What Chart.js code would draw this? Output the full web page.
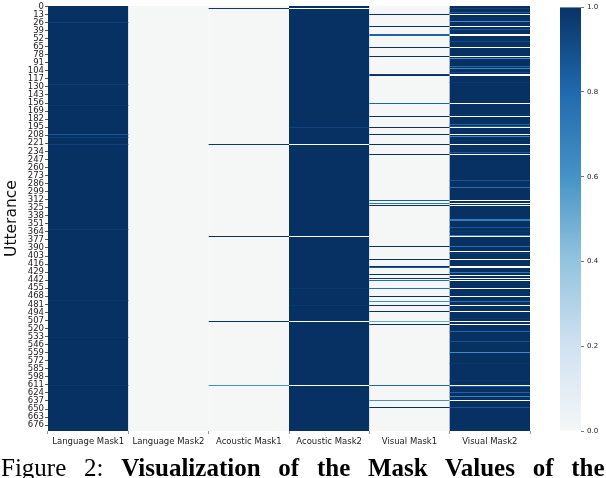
<!DOCTYPE html>
<html>
<head>
<meta charset="utf-8">
<title>Mask values</title>
<script src="https://cdn.jsdelivr.net/npm/chart.js@4"></script>
<style>
  html, body { margin: 0; padding: 0; background: #fff; }
  body { width: 606px; height: 478px; position: relative; overflow: hidden; }
  canvas { position: absolute; top: 0; }
  #heatmap { left: 0; }
  #colorbar { left: 560px; }
  #caption { position: absolute; left: 1px; top: 454px; white-space: nowrap; color: #000;
    font: 25px/28px "Liberation Serif", serif; word-spacing: 11.5px; }
</style>
</head>
<body>
<canvas id="heatmap" width="606" height="478"></canvas>
<canvas id="colorbar" width="46" height="478"></canvas>
<div id="caption">Figure 2: <b>Visualization of the Mask Values of the</b></div>
<script>
  const masks = ['Language Mask1', 'Language Mask2', 'Acoustic Mask1', 'Acoustic Mask2', 'Visual Mask1', 'Visual Mask2'];
  const rowCount = 686;
  const rowTicks = [0, 13, 26, 39, 52, 65, 78, 91, 104, 117, 130, 143, 156, 169, 182, 195, 208, 221, 234, 247, 260, 273, 286, 299, 312, 325, 338, 351, 364, 377, 390, 403, 416, 429, 442, 455, 468, 481, 494, 507, 520, 533, 546, 559, 572, 585, 598, 611, 624, 637, 650, 663, 676];
  const colorbarTicks = [0, 0.2, 0.4, 0.6, 0.8, 1];

  // value most rows have in each mask
  const commonValues = [1, 0, 0, 1, 0, 1];

  // rows that differ from the common value: row numbers, then their values (null = blank cell)
  const languageMask1Rows = [26, 125, 159, 206, 212, 223, 360, 474, 535, 611];
  const languageMask1Values = [0.94, 0.95, 0.97, 0.86, 0.95, 0.94, 0.96, 0.98, 0.98, 0.97];

  const acousticMask1Rows = [3, 222, 371, 508, 611];
  const acousticMask1Values = [0.97, 0.97, 1, 1, 0.6];

  const acousticMask2Rows = [3, 196, 222, 371, 455, 482, 508, 611];
  const acousticMask2Values = [null, 0.93, null, null, 0.97, 0.97, null, null];

  const visualMask1Rows = [13, 32, 45, 46, 66, 80, 109, 112, 157, 178, 196, 207, 222, 239, 313, 318, 321, 387, 408, 419, 422, 432, 439, 442, 443, 455, 468, 476, 482, 492, 509, 514, 611, 636, 648];
  const visualMask1Values = [1, 1, 0.82, 0.82, 1, 1, 0.95, 1, 0.82, 1, 1, 1, 1, 1, 0.84, 0.74, 1, 1, 1, 1, 0.85, 1, 0.97, 0.79, 0.79, 0.76, 1, 0.62, 1, 1, 0.5, 1, 0.81, 0.6, 1];

  const visualMask2Rows = [3, 10, 13, 24, 32, 37, 45, 46, 56, 66, 80, 84, 96, 100, 106, 109, 112, 122, 157, 174, 178, 190, 193, 196, 207, 209, 222, 235, 239, 281, 292, 313, 318, 321, 344, 345, 357, 363, 370, 371, 387, 395, 398, 408, 419, 422, 429, 434, 439, 442, 443, 455, 468, 476, 482, 492, 503, 509, 513, 524, 540, 559, 577, 604, 611, 614, 623, 630, 636, 648];
  const visualMask2Values = [0.93, 0.86, null, 0.63, null, 0.86, null, null, 0.9, null, null, 0.6, 0.8, 0.63, 0.92, null, null, 0.97, null, 0.97, null, 0.8, 0.86, null, null, 0.66, null, 0.86, null, 0.88, 0.77, null, null, null, 0.7, 0.7, 0.86, 0.97, 0.7, null, 0.77, null, 0.96, null, null, null, 0.72, null, null, null, null, null, null, 0.75, null, null, 0.97, null, null, 0.8, 0.88, 0.63, 0.98, 0.98, null, 0.86, 0.82, 0.66, null, 0.86];

  const exceptionRows = [languageMask1Rows, [], acousticMask1Rows, acousticMask2Rows, visualMask1Rows, visualMask2Rows];
  const exceptionValues = [languageMask1Values, [], acousticMask1Values, acousticMask2Values, visualMask1Values, visualMask2Values];

  // Blues colormap as it looks in the picture, low to high
  const colorStops = [
    [0, [245, 247, 247]],
    [0.2, [208, 225, 242]],
    [0.4, [146, 196, 222]],
    [0.6, [68, 146, 198]],
    [0.8, [31, 104, 174]],
    [1, [7, 49, 99]]
  ];

  function valueColor(value) {
    if (value === null) return '#ffffff';
    for (let i = 1; i < colorStops.length; i++) {
      const [v0, c0] = colorStops[i - 1];
      const [v1, c1] = colorStops[i];
      if (value <= v1) {
        const t = (value - v0) / (v1 - v0);
        const c = c0.map((part, k) => Math.round(part + (c1[k] - part) * t));
        return `rgb(${c[0]}, ${c[1]}, ${c[2]})`;
      }
    }
    return 'rgb(7, 49, 99)';
  }

  const exceptionData = [];
  const exceptionColors = [];
  masks.forEach((mask, col) => {
    exceptionRows[col].forEach((row, i) => {
      exceptionData.push({ x: mask, y: [row, row + 1] });
      exceptionColors.push(valueColor(exceptionValues[col][i]));
    });
  });

  // rows are thinner than a pixel, so snap them to whole pixels like the reference
  const snapRows = {
    id: 'snapRows',
    beforeDatasetsDraw(chart) {
      chart.getDatasetMeta(1).data.forEach(bar => {
        const top = Math.round(Math.min(bar.y, bar.base));
        const bottom = Math.max(Math.round(Math.max(bar.y, bar.base)), top + 1);
        bar.y = bottom;
        bar.base = top;
      });
    }
  };

  const tickFont = { family: '"DejaVu Sans"', size: 8.5 };

  new Chart(document.getElementById('heatmap'), {
    type: 'bar',
    data: {
      labels: masks,
      datasets: [
        {
          label: 'common',
          data: masks.map(() => [0, rowCount]),
          backgroundColor: commonValues.map(valueColor),
          order: 2
        },
        {
          label: 'rows',
          data: exceptionData,
          backgroundColor: exceptionColors,
          order: 1
        }
      ]
    },
    options: {
      responsive: false,
      animation: false,
      devicePixelRatio: 1,
      layout: { padding: { top: 4, right: 76, left: 0, bottom: 0 } },
      datasets: { bar: { grouped: false, barPercentage: 1, categoryPercentage: 1, inflateAmount: 0, borderWidth: 0 } },
      plugins: { legend: { display: false }, tooltip: { enabled: false } },
      scales: {
        x: {
          type: 'category',
          afterFit(scale) { scale.height = 47; },
          grid: { display: true, drawOnChartArea: false, drawTicks: true, tickLength: 3, tickColor: '#999' },
          border: { display: false },
          ticks: { font: tickFont, color: '#222', maxRotation: 0, autoSkip: false, padding: 3 }
        },
        y: {
          type: 'linear',
          reverse: true,
          min: 0,
          max: rowCount,
          afterFit(scale) { scale.width = 48; },
          afterBuildTicks(scale) { scale.ticks = rowTicks.map(t => ({ value: t + 0.5 })); },
          grid: { display: true, drawOnChartArea: false, drawTicks: true, tickLength: 3, tickColor: '#555' },
          border: { display: false },
          title: { display: true, text: 'Utterance', font: { family: '"DejaVu Sans"', size: 15.5 }, color: '#111', padding: { top: 3, bottom: 0 } },
          ticks: { font: tickFont, color: '#222', autoSkip: false, padding: 1, callback: v => String(v - 0.5) }
        }
      }
    },
    plugins: [snapRows]
  });

  const barCanvas = document.getElementById('colorbar');
  const gradient = barCanvas.getContext('2d').createLinearGradient(0, 431, 0, 4);
  colorStops.forEach(stop => gradient.addColorStop(stop[0], valueColor(stop[0])));

  new Chart(barCanvas, {
    type: 'bar',
    data: {
      labels: ['scale'],
      datasets: [{ data: [[0, 1]], backgroundColor: gradient, barPercentage: 1, categoryPercentage: 1, inflateAmount: 0, borderWidth: 0 }]
    },
    options: {
      responsive: false,
      animation: false,
      devicePixelRatio: 1,
      layout: { padding: { top: 4, right: 0, left: 0, bottom: 47 } },
      plugins: { legend: { display: false }, tooltip: { enabled: false } },
      scales: {
        x: { display: false },
        y: {
          position: 'right',
          min: 0,
          max: 1,
          afterFit(scale) { scale.width = 25; },
          afterBuildTicks(scale) { scale.ticks = colorbarTicks.map(t => ({ value: t })); },
          grid: { display: true, drawOnChartArea: false, drawTicks: true, tickLength: 3, tickColor: '#777' },
          border: { display: false },
          ticks: { font: { family: '"DejaVu Sans"', size: 7 }, color: '#222', padding: 3, callback: v => v.toFixed(1) }
        }
      }
    }
  });
</script>
</body>
</html>
